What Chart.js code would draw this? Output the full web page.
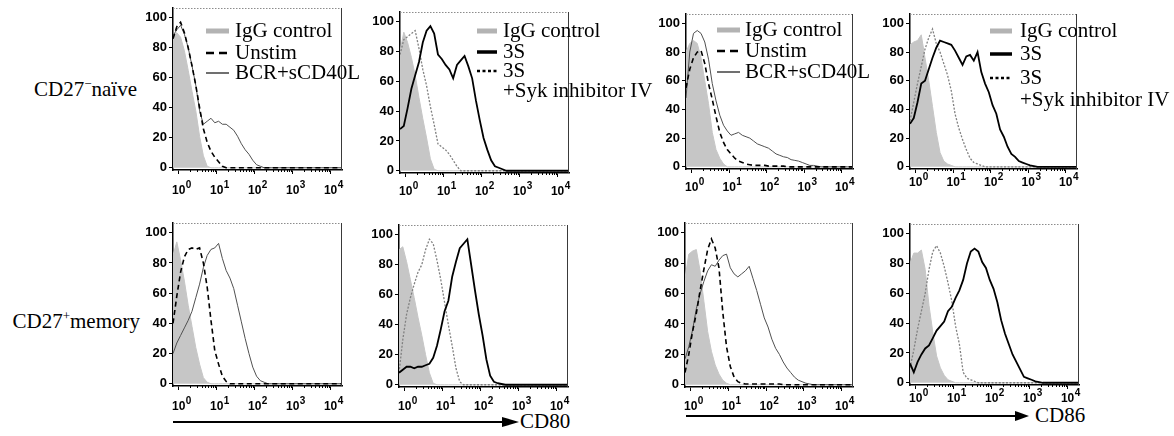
<!DOCTYPE html>
<html>
<head>
<meta charset="utf-8">
<title>CD80 / CD86 expression histograms</title>
<script src="https://cdn.jsdelivr.net/npm/chart.js@4.4.1/dist/chart.umd.min.js"></script>
<style>
  html, body { margin: 0; padding: 0; background: #fff; }
  #fig { position: relative; width: 1174px; height: 436px; overflow: hidden;
         font-family: "Liberation Serif", "Times New Roman", Times, serif; color: #000; }
  #fig canvas { position: absolute; }
  .row-label, .axis-label { position: absolute; font-size: 21px; line-height: 21px; white-space: nowrap; }
  .row-label { text-align: right; }
  .row-label sup { font-size: 13px; vertical-align: baseline; position: relative; top: -8px; }
  #arrows { position: absolute; left: 0; top: 0; }
</style>
</head>
<body>
<div id="fig">
  <div class="row-label" style="right:1037px; top:79px;">CD27<sup>−</sup>naïve</div>
  <div class="row-label" style="right:1034px; top:311px;">CD27<sup>+</sup>memory</div>
  <svg id="arrows" width="1174" height="436">
    <line x1="173" y1="422" x2="505" y2="422" stroke="#000" stroke-width="2"/>
    <polygon points="502,417 519,422 502,427" fill="#000"/>
    <line x1="686" y1="416" x2="1018" y2="416" stroke="#000" stroke-width="2"/>
    <polygon points="1015,411 1029,416 1015,421" fill="#000"/>
  </svg>
  <div class="axis-label" style="left:520px; top:411px;">CD80</div>
  <div class="axis-label" style="left:1035px; top:405px;">CD86</div>
</div>

<script>
// Fluorescence intensity bins (log10 units) shared by every histogram
const logIntensity = [
  -0.15,-0.05,0.05,0.15,0.25,0.35,0.45,0.55,0.65,0.75,
  0.85,0.95,1.05,1.15,1.25,1.35,1.45,1.55,1.65,1.75,
  1.85,1.95,2.05,2.15,2.25,2.35,2.45,2.55,2.65,2.75,
  2.85,2.95,3.05,3.15,3.25,3.35,3.45,3.55,3.65,3.75,
  3.85,3.95,4.05,4.15,4.25,4.35
];

// Axis ticks
const decades = [0, 1, 2, 3, 4];
const decadeBase = '10';
const minorSteps = [2, 3, 4, 5, 6, 7, 8, 9];
const percentTicks = [0, 20, 40, 60, 80, 100];

// Series names
const nameIgG = 'IgG control';
const nameUnstim = 'Unstim';
const nameBCR = 'BCR+sCD40L';
const name3S = '3S';
const nameSyk = ['3S', '+Syk inhibitor IV'];

// ---- CD80, CD27- naive B cells ----
const cd80NaiveIgG = [88,90,87,78,65,51,38,21,8,1,
  0,0,0,0,0,0,0,0,0,0, 0,0,0,0,0,0,0,0,0,0, 0,0,0,0,0,0,0,0,0,0, 0,0,0,0,0,0];
const cd80NaiveUnstim = [86,94,97,90,80,68,55,40,26,17,11,7,4,1,
  0,0,0,0,0,0,0,0,0,0, 0,0,0,0,0,0,0,0,0,0, 0,0,0,0,0,0,0,0,0,0, 0,0];
const cd80NaiveBCR = [88,92,95,89,80,68,55,38,29,31,33,30,31,29,29,27,25,21,16,12,9,5,2,1,
  0,0,0,0,0,0,0,0,0,0, 0,0,0,0,0,0,0,0,0,0, 0,0];

const cd80Naive3sIgG = [80,93,86,76,64,49,35,22,8,1,
  0,0,0,0,0,0,0,0,0,0, 0,0,0,0,0,0,0,0,0,0, 0,0,0,0,0,0,0,0,0,0, 0,0,0,0,0,0];
const cd80Naive3s = [28,30,42,55,64,73,86,94,97,92,78,75,71,68,62,71,74,77,70,62,47,34,22,14,7,3,2,1,
  0,0,0,0,0,0,0,0,0,0, 0,0,0,0,0,0,0,0];
const cd80NaiveSyk = [78,88,90,92,94,82,68,57,43,31,18,16,14,11,7,3,
  0,0,0,0,0,0,0,0,0,0, 0,0,0,0,0,0,0,0,0,0, 0,0,0,0,0,0,0,0,0,0];

// ---- CD86, CD27- naive B cells ----
const cd86NaiveIgG = [80,86,88,86,76,60,44,24,12,6,2,
  0,0,0,0,0,0,0,0,0,0, 0,0,0,0,0,0,0,0,0,0, 0,0,0,0,0,0,0,0,0,0, 0,0,0,0,0];
const cd86NaiveUnstim = [55,68,76,80,81,72,58,47,35,24,17,12,9,6,4,3,2,1.5,1,1,1,1,0.5,0.5,0.5,0.5,0.5,
  0,0,0,0,0,0,0,0,0,0, 0,0,0,0,0,0,0,0,0];
const cd86NaiveBCR = [48,80,93,95,93,87,75,58,46,36,29,25,22,23,24,22,21,20,18,16,15,14,13,11,9,8,7,6.5,5,4.5,4,3,2,1,1,0.5,
  0,0,0,0,0,0,0,0,0,0];

const cd86Naive3sIgG = [85,87,88,92,76,60,42,24,10,4,2,1,
  0,0,0,0,0,0,0,0,0,0, 0,0,0,0,0,0,0,0,0,0, 0,0,0,0,0,0,0,0,0,0, 0,0,0,0];
const cd86Naive3s = [30,34,45,58,60,68,76,83,88,87,86,85,81,76,71,77,78,74,80,66,58,52,43,37,26,21,14,9,7,4,3,2,1,0.5,
  0,0,0,0,0,0,0,0,0,0, 0,0];
const cd86NaiveSyk = [32,45,58,70,82,90,96,86,80,72,64,53,37,27,19,12,6,3,2,1,
  0,0,0,0,0,0,0,0,0,0, 0,0,0,0,0,0,0,0,0,0, 0,0,0,0,0,0];

// ---- CD80, CD27+ memory B cells ----
const cd80MemIgG = [85,94,82,68,52,38,24,13,4,1,
  0,0,0,0,0,0,0,0,0,0, 0,0,0,0,0,0,0,0,0,0, 0,0,0,0,0,0,0,0,0,0, 0,0,0,0,0,0];
const cd80MemUnstim = [40,58,74,84,89,90,89,90,80,64,42,22,13,5,1.5,
  0,0,0,0,0,0,0,0,0,0, 0,0,0,0,0,0,0,0,0,0, 0,0,0,0,0,0,0,0,0,0, 0];
const cd80MemBCR = [20,27,32,37,42,48,57,66,77,85,89,90,93,83,75,70,63,52,41,30,20,11,5,2,1,
  0,0,0,0,0,0,0,0,0,0, 0,0,0,0,0,0,0,0,0,0, 0];

const cd80Mem3sIgG = [90,92,82,70,58,45,33,20,8,1,
  0,0,0,0,0,0,0,0,0,0, 0,0,0,0,0,0,0,0,0,0, 0,0,0,0,0,0,0,0,0,0, 0,0,0,0,0,0];
const cd80Mem3s = [8,10,12,12,11,12,12,13,14,18,26,37,49,56,72,82,91,94,97,80,63,47,33,17,6,2,1,0.5,
  0,0,0,0,0,0,0,0,0,0, 0,0,0,0,0,0,0,0];
const cd80MemSyk = [8,30,47,58,67,75,80,90,97,94,83,70,55,40,26,11,2,
  0,0,0,0,0,0,0,0,0,0, 0,0,0,0,0,0,0,0,0,0, 0,0,0,0,0,0,0,0,0];

// ---- CD86, CD27+ memory B cells ----
const cd86MemIgG = [70,86,88,89,75,55,35,22,13,7,3,1,
  0,0,0,0,0,0,0,0,0,0, 0,0,0,0,0,0,0,0,0,0, 0,0,0,0,0,0,0,0,0,0, 0,0,0,0];
const cd86MemUnstim = [8,20,35,47,62,76,89,96,90,77,48,25,12,5,2,1,0.5,0.5,0.5,0.5,0.5,0.5,0.5,0.5,0.5,0.5,
  0,0,0,0,0,0,0,0,0,0, 0,0,0,0,0,0,0,0,0,0];
const cd86MemBCR = [17,25,36,50,60,68,75,79,78,82,85,86,77,73,71,73,75,78,70,62,53,44,38,30,24,20,15,11,8,5,3,2,1,0.5,
  0,0,0,0,0,0,0,0,0,0, 0,0];

const cd86Mem3sIgG = [80,87,87,89,76,52,34,18,10,5,2,1,
  0,0,0,0,0,0,0,0,0,0, 0,0,0,0,0,0,0,0,0,0, 0,0,0,0,0,0,0,0,0,0, 0,0,0,0];
const cd86Mem3s = [13,7,14,19,23,25,30,35,38,41,48,51,57,62,69,80,88,90,88,81,77,69,63,54,42,33,26,19,14,9,4,3,2,1,0.5,
  0,0,0,0,0,0,0,0,0,0, 0];
const cd86MemSyk = [10,22,36,48,60,76,88,92,87,78,67,55,38,26,7,3,2,1,
  0,0,0,0,0,0,0,0,0,0, 0,0,0,0,0,0,0,0,0,0, 0,0,0,0,0,0,0,0];

// ---------------------------------------------------------------
const fontSans = '"Liberation Sans", Arial, Helvetica, sans-serif';
const fontSerif = '"Liberation Serif", "Times New Roman", Times, serif';
const AXIS_W = 45, AXIS_H = 32, PAD_T = 10;

const lineKinds = {
  igg:  { fill: 'origin', backgroundColor: '#c6c6c6', borderColor: '#c6c6c6', borderWidth: 1, order: 3 },
  dash: { fill: false, borderColor: '#000', borderWidth: 1.6, borderDash: [5, 3.5], order: 1 },
  thin: { fill: false, borderColor: '#505050', borderWidth: 1, order: 2 },
  s3:   { fill: false, borderColor: '#000', borderWidth: 1.8, order: 1 },
  syk:  { fill: false, borderColor: '#808080', borderWidth: 1.3, borderDash: [2, 1.6], order: 2 }
};
const keyKinds = {
  dash: { color: '#000', width: 2.4, dash: [8, 5] },
  thin: { color: '#222', width: 1.3, dash: [] },
  s3:   { color: '#000', width: 3.5, dash: [] },
  syk:  { color: '#000', width: 2.5, dash: [3, 2.5] }
};

const panels = [
  { box: [173, 8, 342, 170], extra: 30, gap: 21,
    sets: [[nameIgG, cd80NaiveIgG, 'igg'], [nameUnstim, cd80NaiveUnstim, 'dash'], [nameBCR, cd80NaiveBCR, 'thin']],
    key: { sx: [206, 229], tx: 235, base: [37, 59, 79], lead: 21 } },
  { box: [400, 12, 569, 173], extra: 95, gap: 19,
    sets: [[nameIgG, cd80Naive3sIgG, 'igg'], [name3S, cd80Naive3s, 's3'], [nameSyk, cd80NaiveSyk, 'syk']],
    key: { sx: [477, 497], tx: 503, base: [37, 58, 77], lead: 20 } },
  { box: [686, 14, 853, 169], extra: 30, gap: 19,
    sets: [[nameIgG, cd86NaiveIgG, 'igg'], [nameUnstim, cd86NaiveUnstim, 'dash'], [nameBCR, cd86NaiveBCR, 'thin']],
    key: { sx: [717, 740], tx: 745, base: [36, 57, 78], lead: 21 } },
  { box: [910, 14, 1077, 169], extra: 97, gap: 14,
    sets: [[nameIgG, cd86Naive3sIgG, 'igg'], [name3S, cd86Naive3s, 's3'], [nameSyk, cd86NaiveSyk, 'syk']],
    key: { sx: [990, 1012], tx: 1020, base: [37, 60, 84], lead: 22 } },
  { box: [173, 223, 342, 386], extra: 10, gap: 21,
    sets: [[nameIgG, cd80MemIgG, 'igg'], [nameUnstim, cd80MemUnstim, 'dash'], [nameBCR, cd80MemBCR, 'thin']] },
  { box: [399, 225, 568, 387], extra: 10, gap: 20,
    sets: [[nameIgG, cd80Mem3sIgG, 'igg'], [name3S, cd80Mem3s, 's3'], [nameSyk, cd80MemSyk, 'syk']] },
  { box: [685, 223, 853, 387], extra: 10, gap: 20,
    sets: [[nameIgG, cd86MemIgG, 'igg'], [nameUnstim, cd86MemUnstim, 'dash'], [nameBCR, cd86MemBCR, 'thin']] },
  { box: [910, 224, 1079, 385], extra: 10, gap: 14,
    sets: [[nameIgG, cd86Mem3sIgG, 'igg'], [name3S, cd86Mem3s, 's3'], [nameSyk, cd86MemSyk, 'syk']] }
];

// Top edge dotted, right edge solid: the open frame of a cytometry histogram
const framePlugin = {
  id: 'frame',
  afterDraw(chart) {
    const { ctx, chartArea: a } = chart;
    ctx.save();
    ctx.lineWidth = 1;
    ctx.strokeStyle = '#8c8c8c';
    ctx.setLineDash([1.5, 1.5]);
    ctx.beginPath(); ctx.moveTo(a.left, a.top + 0.5); ctx.lineTo(a.right, a.top + 0.5); ctx.stroke();
    ctx.setLineDash([]);
    ctx.strokeStyle = '#3a3a3a';
    ctx.beginPath(); ctx.moveTo(a.right - 0.5, a.top); ctx.lineTo(a.right - 0.5, a.bottom); ctx.stroke();
    ctx.restore();
  }
};

// Decade labels written as 10 with a raised exponent, plus small log minor ticks
const decadePlugin = {
  id: 'decadeLabels',
  afterDraw(chart, args, opts) {
    const s = chart.scales.x, ctx = chart.ctx;
    const a = chart.chartArea;
    const y = a.bottom + opts.gap;
    ctx.save();
    ctx.strokeStyle = '#000';
    ctx.lineWidth = 1;
    ctx.beginPath();
    decades.slice(0, -1).forEach(d => {
      minorSteps.forEach(m => {
        const px = Math.round(s.getPixelForValue(d + Math.log10(m))) + 0.5;
        ctx.moveTo(px, a.bottom);
        ctx.lineTo(px, a.bottom + 2);
      });
    });
    ctx.stroke();
    ctx.fillStyle = '#000';
    ctx.textBaseline = 'middle';
    s.ticks.forEach(t => {
      const px = s.getPixelForValue(t.value);
      ctx.font = `bold 12px ${fontSans}`;
      const w = ctx.measureText(decadeBase).width;
      ctx.textAlign = 'center';
      ctx.fillText(decadeBase, px, y);
      ctx.font = `bold 10px ${fontSans}`;
      ctx.textAlign = 'left';
      ctx.fillText(String(t.value), px + w / 2 + 0.5, y - 6);
    });
    ctx.restore();
  }
};

// In-plot key: swatch + serif label for each dataset
const keyPlugin = {
  id: 'key',
  afterDraw(chart, args, o) {
    if (!o || !o.base) return;
    const ctx = chart.ctx;
    const [ox, oy] = o.origin;
    ctx.save();
    chart.data.datasets.forEach((ds, i) => {
      const yb = o.base[i] - oy;
      const ys = yb - 6;
      const x0 = o.sx[0] - ox, x1 = o.sx[1] - ox;
      if (ds.kind === 'igg') {
        ctx.fillStyle = '#b3b3b3';
        ctx.fillRect(x0, ys - 2.5, x1 - x0, 5);
      } else {
        const k = keyKinds[ds.kind];
        ctx.strokeStyle = k.color;
        ctx.lineWidth = k.width;
        ctx.setLineDash(k.dash);
        ctx.beginPath(); ctx.moveTo(x0, ys); ctx.lineTo(x1, ys); ctx.stroke();
        ctx.setLineDash([]);
      }
      ctx.font = `21px ${fontSerif}`;
      ctx.fillStyle = '#000';
      ctx.textAlign = 'left';
      ctx.textBaseline = 'alphabetic';
      ds.keyLines.forEach((line, j) => ctx.fillText(line, o.tx - ox, yb + j * o.lead));
    });
    ctx.restore();
  }
};

Chart.defaults.font.family = fontSans;
Chart.defaults.color = '#000';

const fig = document.getElementById('fig');

panels.forEach(p => {
  const [l, t, r, b] = p.box;
  const cx = l - AXIS_W, cy = t - PAD_T;
  const cw = (r - l) + AXIS_W + p.extra;
  const ch = (b - t) + PAD_T + AXIS_H;
  const canvas = document.createElement('canvas');
  canvas.width = cw; canvas.height = ch;
  canvas.style.left = cx + 'px'; canvas.style.top = cy + 'px';
  canvas.style.width = cw + 'px'; canvas.style.height = ch + 'px';
  fig.appendChild(canvas);

  const datasets = p.sets.map(([name, values, kind]) => Object.assign({
    label: Array.isArray(name) ? name.join(' ') : name,
    keyLines: Array.isArray(name) ? name : [name],
    kind: kind,
    data: values.map((v, i) => ({ x: logIntensity[i], y: v })),
    pointRadius: 0,
    tension: 0
  }, lineKinds[kind]));

  new Chart(canvas, {
    type: 'line',
    data: { datasets },
    options: {
      responsive: false,
      animation: false,
      devicePixelRatio: 1,
      events: [],
      layout: { padding: { left: 0, top: PAD_T, right: p.extra, bottom: 0 } },
      scales: {
        x: {
          type: 'linear', min: -0.15, max: 4.3,
          afterBuildTicks: s => { s.ticks = decades.map(v => ({ value: v })); },
          afterFit: s => { s.height = AXIS_H; s.paddingLeft = 0; s.paddingRight = 0; },
          grid: { display: true, drawOnChartArea: false, drawTicks: true, tickLength: 4, color: '#000', lineWidth: 1 },
          border: { display: true, color: '#000', width: 1.5 },
          ticks: { autoSkip: false, maxRotation: 0, padding: 0, callback: () => '' }
        },
        y: {
          type: 'linear', min: -1.5, max: 106.5,
          afterBuildTicks: s => { s.ticks = percentTicks.map(v => ({ value: v })); },
          afterFit: s => { s.width = AXIS_W; s.paddingTop = 0; s.paddingBottom = 0; },
          grid: { display: true, drawOnChartArea: false, drawTicks: true, tickLength: 4, color: '#000', lineWidth: 1 },
          border: { display: true, color: '#000', width: 1.5 },
          ticks: { autoSkip: false, padding: 2, color: '#000', font: { size: 13, weight: 'bold', family: fontSans } }
        }
      },
      plugins: {
        legend: { display: false },
        tooltip: { enabled: false },
        decadeLabels: { gap: p.gap },
        key: p.key ? Object.assign({ origin: [cx, cy] }, p.key) : {}
      }
    },
    plugins: [framePlugin, decadePlugin, keyPlugin]
  });
});
</script>
</body>
</html>
